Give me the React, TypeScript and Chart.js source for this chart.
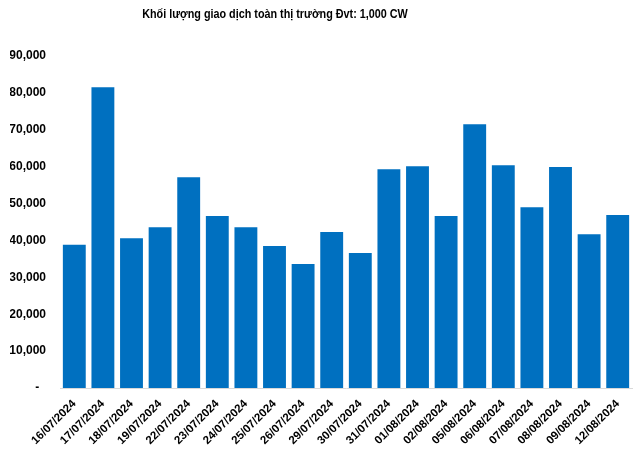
import React, { useEffect, useRef } from "react";
import { Chart, registerables } from "chart.js";

Chart.register(...registerables);

const TITLE = "Khối lượng giao dịch toàn thị trường Đvt: 1,000 CW";
const dates = [
  "16/07/2024", "17/07/2024", "18/07/2024", "19/07/2024", "22/07/2024",
  "23/07/2024", "24/07/2024", "25/07/2024", "26/07/2024", "29/07/2024",
  "30/07/2024", "31/07/2024", "01/08/2024", "02/08/2024", "05/08/2024",
  "06/08/2024", "07/08/2024", "08/08/2024", "09/08/2024", "12/08/2024",
];
const volumes = [
  38800, 81500, 40600, 43600, 57100,
  46600, 43600, 38500, 33600, 42300,
  36600, 59300, 60100, 46600, 71500,
  60400, 49000, 59900, 41700, 46900,
];
const yMax = 90000;
const yStep = 10000;

export default function App() {
  const ref = useRef<HTMLCanvasElement>(null);
  useEffect(() => {
    if (!ref.current) return;
    const chart = new Chart(ref.current, {
      type: "bar",
      data: {
        labels: dates,
        datasets: [
          {
            data: volumes,
            backgroundColor: "#0070C0",
            borderWidth: 0,
            categoryPercentage: 1,
            barPercentage: 0.8,
          },
        ],
      },
      options: {
        animation: false,
        responsive: false,
        maintainAspectRatio: false,
        layout: { padding: { top: 56, left: 10, right: 8, bottom: 0 } },
        plugins: { legend: { display: false }, tooltip: { enabled: false }, title: { display: false } },
        scales: {
          x: {
            grid: { display: false, drawTicks: false },
            border: { display: true, color: "#d9d9d9", width: 1 },
            afterFit: (scale: any) => {
              scale.paddingLeft = 0;
              scale.paddingRight = 0;
              scale.height = 61;
            },
            ticks: {
              color: "#000",
              font: { family: "Arial, 'Liberation Sans'", size: 11.5, weight: "bold" },
              maxRotation: 45,
              minRotation: 45,
              autoSkip: false,
              padding: 9,
            },
          },
          y: {
            min: 0,
            max: yMax,
            grid: { display: false, drawTicks: false },
            border: { display: false },
            afterFit: (scale: any) => {
              scale.width = 50;
            },
            ticks: {
              stepSize: yStep,
              color: "#000",
              padding: 14,
              font: { family: "Arial, 'Liberation Sans'", size: 12, weight: "bold" },
              callback: (v: any) => (Number(v) === 0 ? "-  " : Number(v).toLocaleString("en-US")),
            },
          },
        },
      },
    });
    return () => chart.destroy();
  }, []);
  return (
    <div style={{ position: "fixed", left: 0, top: 0, width: 640, height: 449, background: "#fff" }}>
      <div
        style={{
          position: "absolute",
          left: 0,
          top: 6,
          width: 550,
          textAlign: "center",
          fontFamily: "Arial, 'Liberation Sans', sans-serif",
          fontWeight: "bold",
          fontSize: 12,
          lineHeight: "16px",
          color: "#000",
          transform: "scaleX(0.9)",
          transformOrigin: "275px 0",
        }}
      >
        {TITLE}
      </div>
      <canvas ref={ref} width={640} height={449} style={{ display: "block" }} />
    </div>
  );
}
